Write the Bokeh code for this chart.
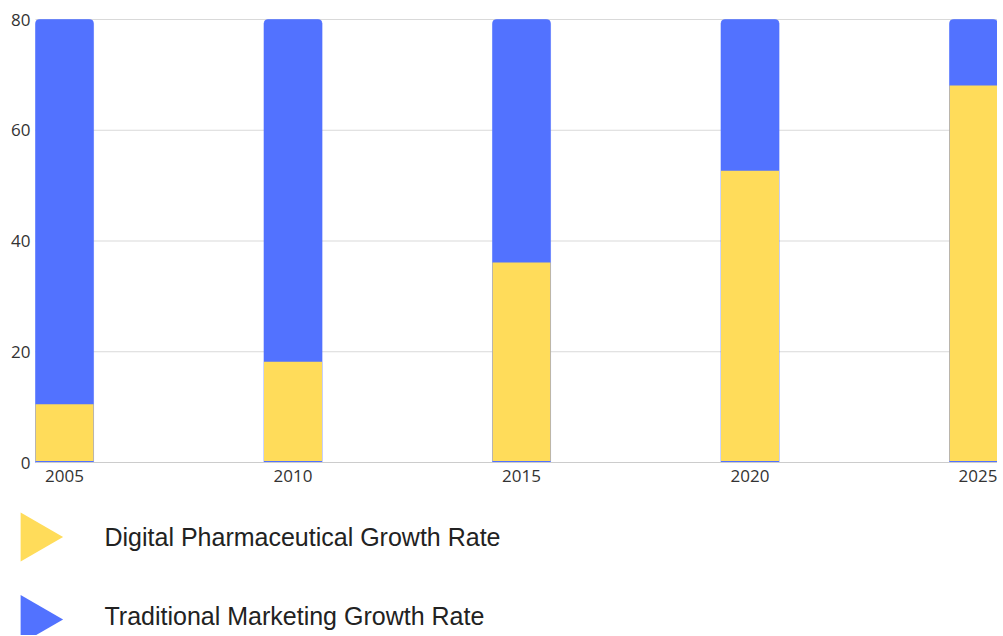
import math
from bokeh.plotting import figure
from bokeh.models import Range1d, FixedTicker, ColumnDataSource, LinearAxis
from bokeh.core.properties import value
from bokeh.embed import file_html
from bokeh.resources import INLINE

years = [2005, 2010, 2015, 2020, 2025]
digital = [10.5, 18.2, 36.1, 52.7, 68.1]
traditional = [80, 80, 80, 80, 80]
series_names = ["Digital Pharmaceutical Growth Rate", "Traditional Marketing Growth Rate"]
colors = ["#FFDC5A", "#5272FF"]
y_ticks = [0, 20, 40, 60, 80]

# layout geometry (pixels)
W, H = 997, 635
PX_PER_YEAR = 45.7
PX_PER_UNIT = 5.5375
PLOT_LEFT_PX = 35      # left edge of the bar area
PLOT_TOP_PX = 19       # y=80 line
X_START_DATA = 2004.365

x_start = X_START_DATA - PLOT_LEFT_PX / PX_PER_YEAR
x_end = x_start + W / PX_PER_YEAR
y_end = max(y_ticks) + PLOT_TOP_PX / PX_PER_UNIT
y_start = y_end - H / PX_PER_UNIT


def px2x(px):
    return x_start + px / PX_PER_YEAR


def px2y(py):
    return y_end - py / PX_PER_UNIT


src = ColumnDataSource(dict(year=years, digital=digital, traditional=traditional))

p = figure(width=W, height=H, output_backend="svg", toolbar_location=None,
           x_range=Range1d(x_start, x_end), y_range=Range1d(y_start, y_end),
           x_axis_location=None, y_axis_location=None, min_border=0)
p.outline_line_color = None
p.background_fill_color = "white"
p.border_fill_color = "white"
p.grid.visible = False

# horizontal grid lines
grid_y = [t for t in y_ticks if t != 0]
p.segment(x0=[X_START_DATA] * len(grid_y), x1=[x_end] * len(grid_y), y0=grid_y, y1=grid_y,
          line_color="#d9d9d9", line_width=1)

p.vbar(x="year", top="traditional", bottom=0, width=1.27, source=src,
       fill_color=colors[1], line_color=colors[1], line_alpha=0.6,
       border_radius=(4, 4, 0, 0))
p.vbar(x="year", top="digital", bottom=0.25, width=1.27, source=src,
       fill_color=colors[0], line_color=None)

yaxis = LinearAxis(fixed_location=X_START_DATA, ticker=FixedTicker(ticks=y_ticks))
yaxis.axis_line_color = None
yaxis.major_tick_line_color = None
yaxis.minor_tick_line_color = None
yaxis.major_label_standoff = -1
yaxis.major_label_text_font = "Open Sans"
yaxis.major_label_text_font_size = "17px"
yaxis.major_label_text_color = "#333333"
p.add_layout(yaxis, "left")

xaxis = LinearAxis(fixed_location=0, ticker=FixedTicker(ticks=years),
                   bounds=(X_START_DATA, x_end))
xaxis.axis_line_color = "#cccccc"
xaxis.major_tick_line_color = None
xaxis.minor_tick_line_color = None
xaxis.major_label_standoff = 1
xaxis.major_label_text_font = "Open Sans"
xaxis.major_label_text_font_size = "17px"
xaxis.major_label_text_color = "#333333"
p.add_layout(xaxis, "below")

# legend
leg_tri_y = [px2y(536.5), px2y(619)]
leg_text_y = [px2y(536), px2y(615)]
leg_tri_x = px2x(34.3)
leg_text_x = px2x(104)
p.scatter(x=[leg_tri_x] * 2, y=leg_tri_y, marker="triangle", size=49, angle=-math.pi / 2,
          fill_color=colors, line_color=None)
p.text(x=[leg_text_x] * 2, y=leg_text_y, text=series_names, text_font=value("Liberation Sans"),
       text_font_size="25px", text_baseline="middle", text_align="left",
       text_color="#222222")

open("out.html", "w").write(file_html(p, INLINE))
